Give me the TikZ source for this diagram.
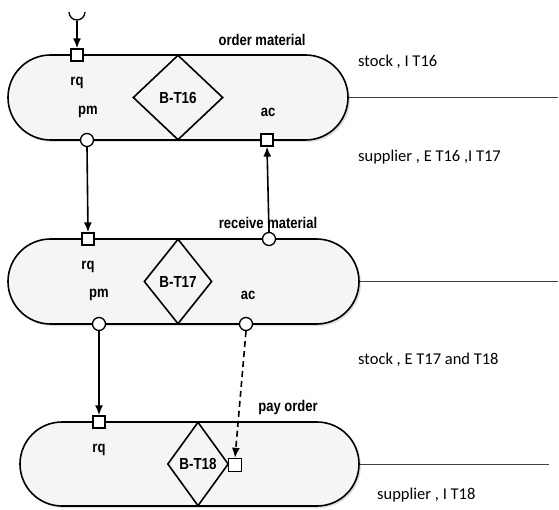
\documentclass[tikz,border=0pt]{standalone}
\usepackage{fontspec}
\newfontfamily\lblfont[FakeStretch=0.84]{Liberation Sans}
\newfontfamily\notefont{Carlito}
\usetikzlibrary{arrows.meta,positioning,calc,shapes.misc,shapes.geometric,shadows}

\tikzset{
  capsule/.style={rounded rectangle,draw,line width=1.6pt,fill=black!4,
    drop shadow={opacity=0.25,shadow xshift=2pt,shadow yshift=-2pt},
    minimum height=85pt,inner sep=0pt},
  bstep/.style={diamond,draw,line width=1.6pt,inner sep=0pt,
    font=\lblfont\bfseries\fontsize{16}{17}\selectfont},
  sqport/.style={rectangle,draw,line width=1.3pt,fill=white,
    minimum size=12pt,inner sep=0pt},
  ciport/.style={circle,draw,line width=1.3pt,fill=white,
    minimum size=13pt,inner sep=0pt},
  lbl/.style={font=\lblfont\bfseries\fontsize{15.5}{16}\selectfont,inner sep=0pt},
  note/.style={font=\notefont\fontsize{16.5}{18}\selectfont,anchor=west,inner sep=0pt},
  flow/.style={line width=1.6pt,-{Latex[length=10pt,width=8pt]}},
  tail/.style={line width=1pt,black!75}
}

\begin{document}
\begin{tikzpicture}[x=1pt,y=-1pt]
  \useasboundingbox (0,0) rectangle (559,510);
  % transaction capsules
  \node[capsule,minimum width=340pt] (cap1) at (178,97.5) {};
  \node[capsule,minimum width=351pt] (cap2) at (183.5,281.5) {};
  \node[capsule,minimum width=339pt,minimum height=84pt] (cap3) at (189.5,464) {};
  \coordinate (end1) at (558,97.5);
  \coordinate (end2) at (558,281.5);
  \coordinate (end3) at (549,464);
  \draw[tail] (cap1.east) -- (end1);
  \draw[tail] (cap2.east) -- (end2);
  \draw[tail] (cap3.east) -- (end3);

  % B-steps
  \node[bstep,minimum width=90pt,minimum height=85pt] (bt16) at (178,97.5) {B-T16};
  \node[bstep,minimum width=68pt,minimum height=85pt] (bt17) at (178,281.5) {B-T17};
  \node[bstep,minimum width=61pt,minimum height=84pt] (bt18) at (198,464) {B-T18};

  % ports
  \begin{scope}
    \clip (0,13) rectangle (559,510);
    \node[ciport,minimum size=16pt] (start) at (77,12) {};
  \end{scope}
  \node[sqport] (rq1) at (77,55) {};
  \node[ciport] (pm1) at (87,140) {};
  \node[sqport] (ac1) at (267,140) {};
  \node[sqport] (rq2) at (88,239) {};
  \node[ciport] (rm) at (269,239) {};
  \node[ciport] (pm2) at (99,324) {};
  \node[ciport] (ac2) at (246,324) {};
  \node[sqport] (rq3) at (99,422) {};
  \node[sqport,minimum size=13pt] (ac3) at (235,465) {};

  % port labels
  \node[lbl] (rqlbl1) at (77,83) {rq};
  \node[lbl] (pmlbl1) at (88,112) {pm};
  \node[lbl] (aclbl1) at (268,112) {ac};
  \node[lbl] (om) at (262,40) {order material};
  \node[lbl] (rqlbl2) at (88,267) {rq};
  \node[lbl] (pmlbl2) at (99,295) {pm};
  \node[lbl] (aclbl2) at (248,295) {ac};
  \node[lbl] (rmat) at (268,223) {receive material};
  \node[lbl] (rqlbl3) at (99,450) {rq};
  \node[lbl] (po) at (288,407) {pay order};

  % actor notes
  \node[note] (n1) at (358,62) {stock , I T16};
  \node[note] (n2) at (358,157) {supplier , E T16 ,I T17};
  \node[note] (n3) at (358,360) {stock , E T17 and T18};
  \node[note] (n4) at (377,495) {supplier , I T18};

  % links
  \draw[flow] (start.south) -- (rq1.north);
  \draw[flow] (pm1.south) -- (rq2.north);
  \draw[flow] (rm.north) -- (ac1.south);
  \draw[flow] (pm2.south) -- (rq3.north);
  \draw[flow,dashed,dash pattern=on 6pt off 4pt] (ac2.south) -- (ac3.north);
\end{tikzpicture}
\end{document}
